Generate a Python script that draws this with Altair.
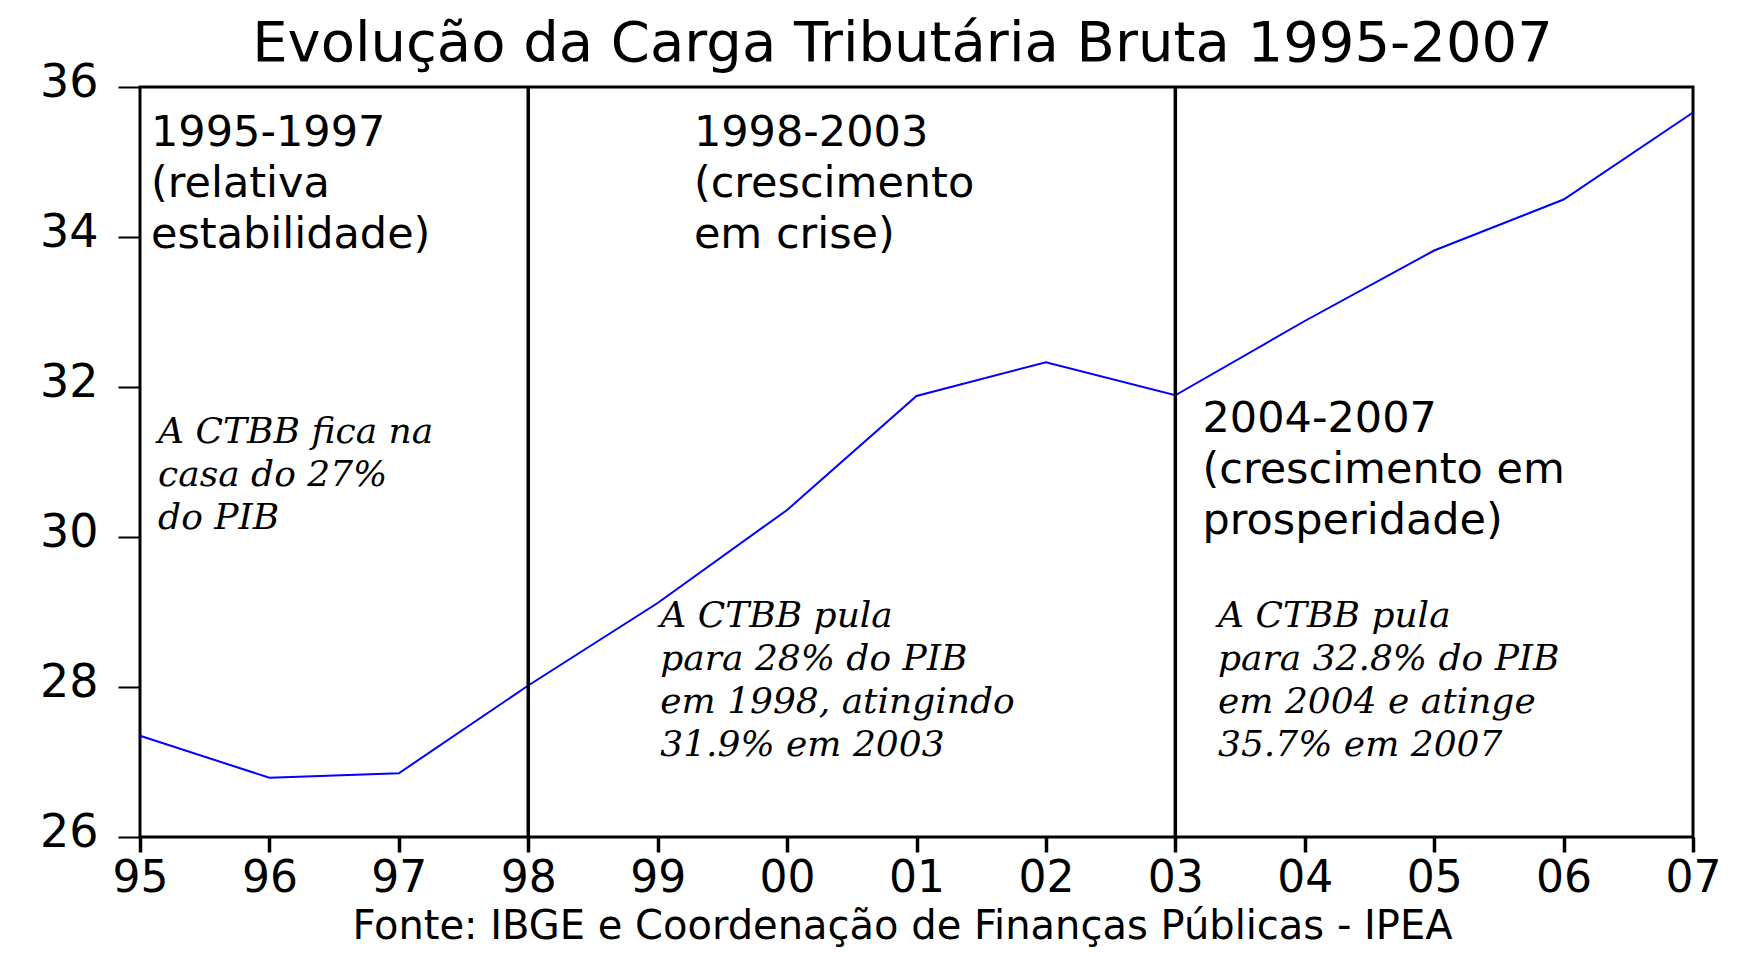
import altair as alt
import pandas as pd

# ---- data ----
years = [1995, 1996, 1997, 1998, 1999, 2000, 2001, 2002, 2003, 2004, 2005, 2006, 2007]
ctbb = [27.35, 26.79, 26.85, 28.02, 29.12, 30.36, 31.88, 32.33, 31.89, 32.88, 33.82, 34.50, 35.66]

x_tick_years = [1995, 1996, 1997, 1998, 1999, 2000, 2001, 2002, 2003, 2004, 2005, 2006, 2007]
x_tick_labels = ["95", "96", "97", "98", "99", "00", "01", "02", "03", "04", "05", "06", "07"]
y_ticks = [26, 28, 30, 32, 34, 36]

period_breaks = [1998, 2003]

period_titles = [
    ["1995-1997", "(relativa", "estabilidade)"],
    ["1998-2003", "(crescimento", "em crise)"],
    ["2004-2007", "(crescimento em", "prosperidade)"],
]
period_notes = [
    ["A CTBB fica na", "casa do 27%", "do PIB"],
    ["A CTBB pula", "para 28% do PIB", "em 1998, atingindo", "31.9% em 2003"],
    ["A CTBB pula", "para 32.8% do PIB", "em 2004 e atinge", "35.7% em 2007"],
]

title_text = "Evolução da Carga Tributária Bruta 1995-2007"
source_text = "Fonte: IBGE e Coordenação de Finanças Públicas - IPEA"

# annotation anchors (data units: year, % of GDP)
title_anchor_x = [1995.085, 1999.28, 2003.21]
title_anchor_y = [35.22, 35.21, 31.40]
note_anchor_x = [1995.14, 1999.02, 2003.33]
note_anchor_y = [31.26, 28.80, 28.80]

# ---- chart ----
line_df = pd.DataFrame({"year": years, "value": ctbb})
breaks_df = pd.DataFrame({"year": period_breaks})
titles_data = alt.Data(values=[
    {"year": x, "value": y, "lines": t}
    for x, y, t in zip(title_anchor_x, title_anchor_y, period_titles)
])
notes_data = alt.Data(values=[
    {"year": x, "value": y, "lines": t}
    for x, y, t in zip(note_anchor_x, note_anchor_y, period_notes)
])

label_expr = " : ".join(
    f"datum.value == {y} ? '{l}'" for y, l in zip(x_tick_years, x_tick_labels)
) + " : ''"

xscale = alt.Scale(domain=[1995, 2007], nice=False, zero=False)
yscale = alt.Scale(domain=[26, 36], nice=False, zero=False)

FONT = "DejaVu Sans"

x_axis = alt.Axis(
    values=x_tick_years, labelExpr=label_expr, grid=False, domain=False,
    tickSize=15, tickWidth=3.5, tickColor="black",
    labelFont=FONT, labelFontSize=44, labelColor="black", labelPadding=4,
    labelOverlap=False, labelFlush=False, labelBound=False,
    title=source_text, titleFont=FONT, titleFontSize=40, titleFontWeight="normal",
    titleColor="black", titleX=762, titleY=101, titleAlign="center",
    titleBaseline="alphabetic",
)
y_axis = alt.Axis(
    values=y_ticks, format="d", grid=False, domain=False,
    tickSize=22, tickWidth=2, tickColor="black",
    labelFont=FONT, labelFontSize=46, labelColor="black", labelPadding=20,
    labelOffset=-5, labelOverlap=False, labelFlush=False, labelBound=False,
    title=None,
)

X = alt.X("year:Q", scale=xscale, axis=x_axis)
Y = alt.Y("value:Q", scale=yscale, axis=y_axis)

line = alt.Chart(line_df).mark_line(color="#0000ff", strokeWidth=2).encode(x=X, y=Y)

rules = alt.Chart(breaks_df).mark_rule(color="black", strokeWidth=3.5).encode(x=X)

heads = alt.Chart(titles_data).mark_text(
    align="left", baseline="alphabetic", font=FONT, fontSize=43,
    lineHeight=51, color="black",
).encode(x=X, y=Y, text="lines:N")

notes = alt.Chart(notes_data).mark_text(
    align="left", baseline="alphabetic", font="DejaVu Serif",
    fontStyle="italic", fontSize=36, lineHeight=43, color="black",
).encode(x=X, y=Y, text="lines:N")

chart = alt.layer(line, rules, heads, notes).properties(
    width=1553,
    height=750,
    autosize=alt.AutoSizeParams(type="none"),
    padding={"left": 132, "top": 79, "right": 32, "bottom": 111},
    title=alt.TitleParams(
        text=title_text, font=FONT, fontSize=56, fontWeight="normal",
        color="black", anchor="middle", dx=-14, dy=43, offset=29,
    ),
    background="white",
).configure_view(
    stroke="black", strokeWidth=3,
)

chart.save("out.html", embed_options={"renderer": "svg", "actions": False})
